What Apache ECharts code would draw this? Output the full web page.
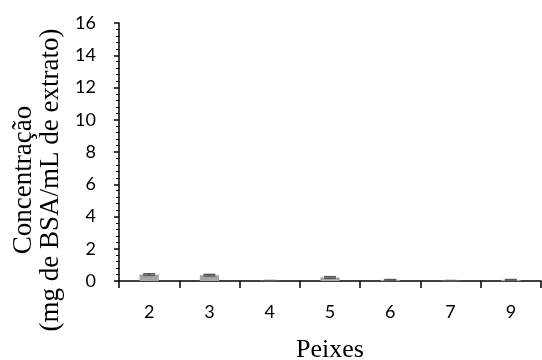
<!DOCTYPE html>
<html>
<head>
<meta charset="utf-8">
<script src="https://cdn.jsdelivr.net/npm/echarts@6/dist/echarts.min.js"></script>
<style>
  html, body { margin: 0; padding: 0; background: #fff; }
  #chart { width: 542px; height: 360px; }
</style>
</head>
<body>
<div id="chart"></div>
<script>
// Peixes (fish) and measured protein concentration
const categories = ['2', '3', '4', '5', '6', '7', '9'];
const concentration = [0.40, 0.36, 0.02, 0.22, 0.07, 0.02, 0.07];
const stdDev = [0.05, 0.05, 0.01, 0.05, 0.02, 0.01, 0.02];

const chart = echarts.init(document.getElementById('chart'));

const errorData = categories.map((c, i) => [i, concentration[i] - stdDev[i], concentration[i] + stdDev[i]]);

chart.setOption({
  animation: false,
  grid: { left: 119, right: 1, top: 23, bottom: 79, outerBoundsMode: 'none', containLabel: false },
  xAxis: {
    type: 'category',
    data: categories,
    name: 'Peixes',
    nameLocation: 'middle',
    nameGap: 56,
    nameTextStyle: { fontFamily: 'Liberation Serif', fontSize: 26, color: '#000' },
    axisLine: { lineStyle: { color: '#000', width: 1.5 } },
    axisTick: { show: true, length: 7, lineStyle: { color: '#000', width: 1.5 } },
    axisLabel: { fontFamily: 'Lato', fontSize: 18, color: '#000', margin: 22 }
  },
  yAxis: {
    type: 'value',
    min: 0,
    max: 16,
    interval: 2,
    name: 'Concentração\n(mg de BSA/mL de extrato)',
    nameLocation: 'middle',
    nameGap: 54,
    // extra right padding pushes the rotated title down along the axis
    nameTextStyle: { fontFamily: 'Liberation Serif', fontSize: 27, color: '#000', lineHeight: 27, padding: [0, 56, 0, 0] },
    axisLine: { show: true, lineStyle: { color: '#000', width: 1.5 } },
    axisTick: { show: true, length: 5, lineStyle: { color: '#000', width: 1.5 } },
    minorTick: { show: true, splitNumber: 5, length: 3, lineStyle: { color: '#000', width: 1 } },
    splitLine: { show: false },
    axisLabel: { fontFamily: 'Lato', fontSize: 18, color: '#000', margin: 23 }
  },
  series: [
    {
      type: 'bar',
      data: concentration,
      barWidth: '32%',
      itemStyle: { color: '#a5a5a5' }
    },
    {
      type: 'custom',
      data: errorData,
      z: 10,
      renderItem: function (params, api) {
        const x = api.value(0);
        const lo = api.coord([x, api.value(1)]);
        const hi = api.coord([x, api.value(2)]);
        const half = 6;
        const style = { stroke: '#595959', lineWidth: 1.5 };
        return {
          type: 'group',
          children: [
            { type: 'line', shape: { x1: lo[0], y1: lo[1], x2: hi[0], y2: hi[1] }, style: style },
            { type: 'line', shape: { x1: lo[0] - half, y1: lo[1], x2: lo[0] + half, y2: lo[1] }, style: style },
            { type: 'line', shape: { x1: hi[0] - half, y1: hi[1], x2: hi[0] + half, y2: hi[1] }, style: style }
          ]
        };
      }
    }
  ]
});
</script>
</body>
</html>
